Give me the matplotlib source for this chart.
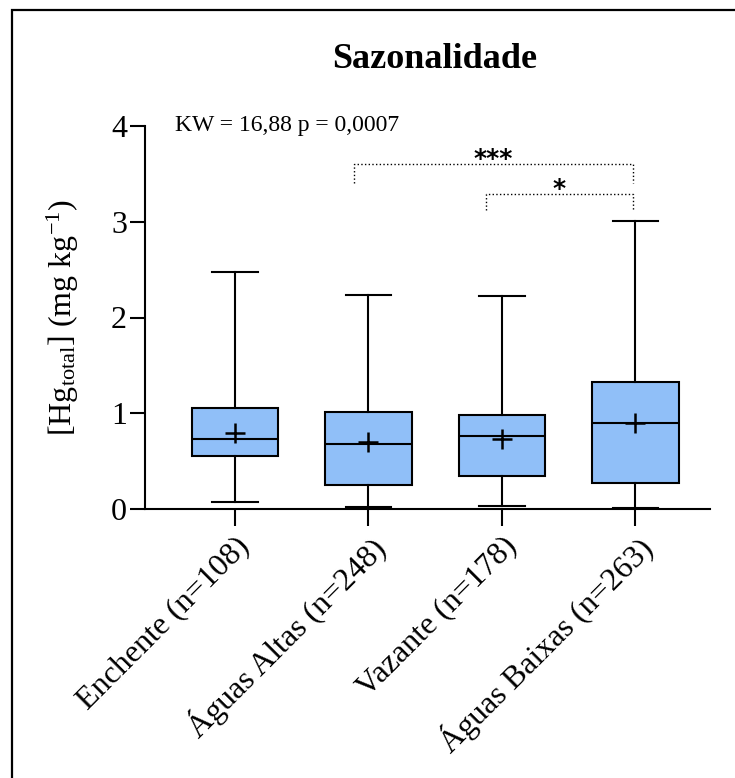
import matplotlib
matplotlib.use("Agg")
import matplotlib.pyplot as plt
from matplotlib.patches import Rectangle

plt.rcParams['font.family'] = ['Liberation Serif', 'DejaVu Serif']
plt.rcParams['mathtext.default'] = 'regular'

# box summaries per season
seasons = ['Enchente (n=108)', 'Águas Altas (n=248)', 'Vazante (n=178)', 'Águas Baixas (n=263)']
whis_lo = [0.07, 0.02, 0.03, 0.01]
q1 = [0.55, 0.25, 0.34, 0.27]
median = [0.73, 0.68, 0.76, 0.90]
q3 = [1.06, 1.01, 0.98, 1.33]
whis_hi = [2.47, 2.23, 2.22, 3.01]
mean = [0.79, 0.70, 0.73, 0.90]

# significance brackets: (left x, right x, height, drop, label)
brackets = [(1.89, 3.98, 3.60, 3.40, '***'),
            (2.88, 3.98, 3.29, 3.12, '*')]

fig = plt.figure(figsize=(7.35, 7.78), dpi=100)
# outer frame
fig.patches.append(Rectangle((12 / 735, -0.1), 1.2, 1 - 10 / 778 + 0.1,
                             transform=fig.transFigure, fill=False,
                             edgecolor='black', linewidth=1.6))

ax = fig.add_axes([145 / 735, 1 - 509 / 778, (710 - 145) / 735, (509 - 126) / 778])

stats = []
for i in range(len(seasons)):
    stats.append({'whislo': whis_lo[i], 'q1': q1[i], 'med': median[i], 'q3': q3[i],
                  'whishi': whis_hi[i], 'mean': mean[i], 'label': seasons[i]})

ax.bxp(stats, positions=[1, 2, 3, 4], widths=0.65, patch_artist=True, showmeans=True,
       showfliers=False,
       boxprops=dict(facecolor='#90BFF8', edgecolor='black', linewidth=1.5),
       medianprops=dict(color='black', linewidth=1.5),
       whiskerprops=dict(color='black', linewidth=1.5),
       capprops=dict(color='black', linewidth=1.5),
       capwidths=0.34,
       meanprops=dict(marker='+', markersize=14, markeredgecolor='black',
                      markeredgewidth=1.8))

for x0, x1, h, drop, lab in brackets:
    ax.plot([x0, x0, x1, x1], [drop, h, h, drop], color='black', linestyle=':',
            linewidth=1.0, clip_on=False)
    ax.text((x0 + x1) / 2, h - 0.07, lab, ha='center', va='bottom', fontsize=18,
            family='DejaVu Sans', fontweight='bold')

ax.set_xlim(0.325, 4.56)
ax.set_ylim(0, 4)
ax.set_yticks([0, 1, 2, 3, 4])
ax.set_xticks([1, 2, 3, 4])
ax.set_xticklabels(seasons, rotation=45, ha='right', rotation_mode='anchor', fontsize=23)
ax.tick_params(axis='y', labelsize=23, length=11, width=1.5, direction='out', pad=2)
ax.tick_params(axis='x', length=12, width=1.5, direction='out', pad=4)
for side in ['top', 'right']:
    ax.spines[side].set_visible(False)
for side in ['left', 'bottom']:
    ax.spines[side].set_linewidth(1.5)

ax.set_ylabel('[Hg$_{total}$] (mg kg$^{-1}$)', fontsize=23)
ax.yaxis.set_label_coords(-0.113, 0.5)
fig.text(175 / 735, 1 - 125 / 778, 'KW = 16,88 p = 0,0007', fontsize=17,
         va='center', ha='left')
fig.text(435 / 735, 1 - 60 / 778, 'Sazonalidade', fontsize=26, fontweight='bold',
         ha='center', va='center')

fig.savefig('out.png', dpi=100)
